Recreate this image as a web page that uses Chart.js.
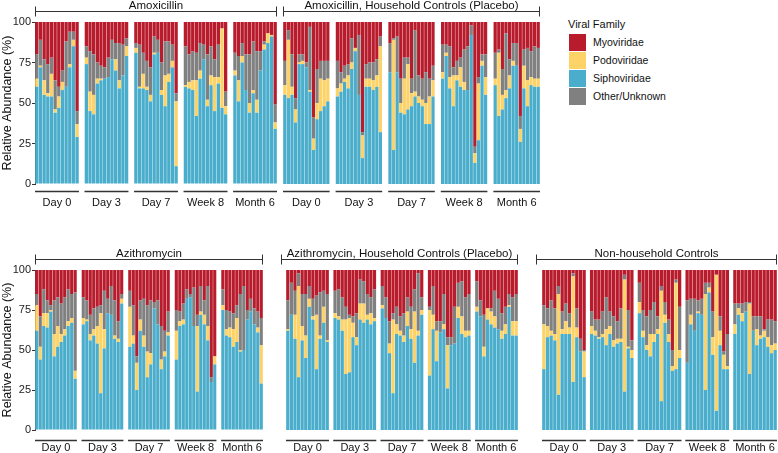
<!DOCTYPE html>
<html>
<head>
<meta charset="utf-8">
<script src="https://cdn.jsdelivr.net/npm/chart.js@4.4.1/dist/chart.umd.min.js"></script>
<style>
  html, body { margin: 0; padding: 0; background: #ffffff; }
  #wrap { position: relative; width: 778px; height: 453px; overflow: hidden; background: #fff;
          font-family: "Liberation Sans", Arial, Helvetica, sans-serif; color: #111; }
  #wrap canvas { position: absolute; }
  .lg-title { position: absolute; font-size: 11px; line-height: 14px; white-space: nowrap; }
  .lg-sw { position: absolute; width: 17px; height: 17px; }
  .lg-tx { position: absolute; font-size: 10.5px; line-height: 17px; white-space: nowrap; }
</style>
</head>
<body>
<div id="wrap"></div>
<script>
// ---------------- DATA ----------------
const timepoints = ["Day 0", "Day 3", "Day 7", "Week 8", "Month 6"];
const groupNames = ["Amoxicillin", "Amoxicillin, Household Controls (Placebo)", "Azithromycin",
                    "Azithromycin, Household Controls (Placebo)", "Non-household Controls"];
const familyNames = ["Myoviridae", "Podoviridae", "Siphoviridae", "Other/Unknown"];
const barsPerPanel = [12, 13, 12, 12, 12];
const yTicks = [0, 25, 50, 75, 100];

// Values in %, panels concatenated in timepoint order (Day 0, Day 3, Day 7, Week 8, Month 6)
const amoxSipho = [60,72,55,54,54,44,47,58,60,72,85,29, 74,45,43,62,64,65,66,77,70,59,67,79, 81,59,59,58,51,80,81,55,48,63,72,11, 60,59,58,42,65,77,48,61,45,62,47,43, 67,51,75,58,44,56,44,70,83,87,91,34];
const amoxPodo  = [5,1,9,2,14,2,7,5,0,2,4,8, 4,12,12,3,1,0,0,0,7,5,0,6, 3,1,9,2,4,1,0,3,19,5,4,40, 1,4,6,22,5,0,4,6,21,4,49,5, 3,13,4,0,6,2,8,0,3,6,1,4];
const amoxOther = [15,16,13,18,10,18,6,7,28,20,5,8, 7,25,25,10,8,7,12,12,10,23,19,5, 3,26,13,16,17,10,8,17,21,20,10,5, 24,17,18,17,17,9,28,18,11,20,0,9, 11,15,8,22,30,30,30,12,2,0,0,11];
const amoxMyo   = [20,11,23,26,22,36,40,30,12,6,6,55, 15,18,20,25,27,28,22,11,13,13,14,10, 13,14,19,24,28,9,11,25,12,12,14,44, 15,20,18,19,13,14,20,15,23,14,4,43, 19,21,13,20,20,12,18,18,12,7,8,51];

const amoxHHSipho = [55,53,55,38,74,74,72,57,21,40,45,48,51, 54,57,63,59,71,82,55,16,60,60,58,60,32, 69,21,69,44,43,46,48,54,50,48,37,37,54, 65,79,59,48,64,60,58,58,92,13,27,73,55, 61,42,46,53,59,73,73,26,59,48,61,60,60];
const amoxHHPodo  = [6,36,5,8,1,2,0,1,7,10,20,16,14, 5,5,2,8,4,2,0,14,5,5,6,7,53, 0,68,0,6,22,28,8,3,4,4,13,17,10, 4,2,7,19,3,12,5,0,0,6,35,3,11, 4,39,9,5,8,3,0,8,14,16,5,5,5];
const amoxHHOther = [15,6,20,7,5,4,3,39,13,21,11,12,11, 17,7,8,7,15,0,37,2,9,10,11,10,6, 18,1,22,15,13,4,9,38,13,13,19,11,9, 17,5,19,5,9,6,20,27,6,4,4,4,14, 16,2,16,35,10,11,14,8,10,20,16,20,19];
const amoxHHMyo   = [24,5,20,47,20,20,25,3,59,29,24,24,24, 24,31,27,26,10,16,8,68,26,25,25,23,9, 13,10,9,35,22,22,35,5,33,35,31,35,27, 14,14,15,28,24,22,17,15,2,77,34,20,20, 19,17,29,7,23,13,13,58,17,16,18,15,16];

const azSipho = [62,44,65,64,74,46,52,55,59,65,67,32, 66,68,56,59,54,23,51,73,72,57,55,79, 52,54,25,62,52,33,41,76,66,38,46,59, 44,65,66,82,83,65,24,72,66,56,30,41, 75,59,58,52,55,49,50,69,74,66,61,29];
const azPodo  = [16,8,8,9,1,14,13,5,4,3,3,5, 4,1,4,4,11,50,12,0,0,2,2,3, 25,5,17,7,7,16,7,0,0,6,3,2, 18,3,3,0,0,0,41,2,6,9,0,5, 3,4,6,11,15,1,0,0,0,0,3,24];
const azOther = [7,19,15,8,3,21,18,19,20,20,15,49, 13,12,12,13,12,5,24,9,18,22,11,3, 10,19,4,12,23,29,33,4,15,21,13,13, 13,6,10,6,2,24,7,16,9,25,3,0, 10,12,10,10,8,35,40,6,8,10,10,17];
const azMyo   = [15,29,12,19,22,19,17,21,17,12,15,14, 17,19,28,24,23,22,13,18,10,19,32,15, 13,22,54,19,18,22,19,20,19,35,38,26, 25,26,21,12,15,11,28,10,19,10,67,54, 12,25,26,27,22,15,10,25,18,24,26,30];

const azHHSipho = [62,72,57,33,56,45,77,69,38,57,67,55, 70,69,62,35,36,58,53,69,67,69,66,68, 76,70,48,23,60,59,55,65,57,42,59,72, 34,63,43,61,63,26,53,54,70,60,58,59, 74,71,46,69,66,64,63,57,60,77,59,59];
const azHHPodo  = [1,0,15,57,9,14,5,2,34,2,10,1, 3,2,7,34,34,9,5,10,12,3,7,2, 2,0,6,46,6,3,4,9,6,32,3,3, 41,9,19,0,3,27,0,0,7,11,4,3, 3,0,6,7,8,7,0,5,6,1,9,9];
const azHHOther = [18,20,15,8,20,26,8,11,12,27,10,29, 14,17,14,8,2,4,15,15,14,13,10,18, 12,13,14,4,11,9,14,9,14,14,36,8, 2,18,6,7,19,5,5,23,15,22,21,23, 16,10,20,0,2,16,19,11,11,7,15,17];
const azHHMyo   = [19,8,13,2,15,15,10,18,16,14,13,15, 13,12,17,23,28,29,27,6,7,15,17,12, 10,17,32,27,23,29,27,17,23,12,2,17, 23,10,32,32,15,42,42,23,8,7,17,15, 7,19,28,24,24,13,18,27,23,15,17,15];

const nonHHSipho = [38,58,59,56,22,60,60,60,30,58,49,33, 60,59,57,58,53,60,52,54,55,24,51,45, 73,58,50,46,55,60,18,67,55,37,38,45, 42,66,62,73,72,25,86,47,12,53,38,38, 60,72,68,74,35,62,53,57,58,52,48,50];
const nonHHPodo  = [28,7,3,4,63,3,8,4,66,6,0,16, 5,3,1,2,10,5,4,3,2,70,1,5, 7,4,3,14,5,3,69,5,5,3,54,5, 0,6,0,1,0,60,3,11,85,9,9,2, 6,4,5,0,44,0,10,2,4,6,5,4];
const nonHHOther = [12,11,19,16,5,11,11,9,2,12,8,1, 9,7,11,14,20,9,15,11,19,3,23,6, 12,13,18,15,20,8,3,8,9,10,2,27, 39,10,20,7,10,7,3,16,0,9,2,20, 13,3,6,6,1,9,8,12,1,11,16,14];
const nonHHMyo   = [22,24,19,24,10,26,21,27,2,24,43,50, 26,31,31,26,17,26,29,32,24,3,25,44, 8,25,29,25,20,29,10,20,31,50,6,23, 19,18,18,19,18,8,8,26,3,29,51,40, 21,21,21,20,20,29,29,29,37,31,31,32];

// ---------------- STYLE / LAYOUT ----------------
const COLORS = { Myoviridae: "#B81C2C", Podoviridae: "#FDD367", Siphoviridae: "#49ADCB", "Other/Unknown": "#808080" };
const FONT = '"Liberation Sans", Arial, Helvetica, sans-serif';

const groupSeries = [
  [amoxSipho, amoxPodo, amoxOther, amoxMyo],
  [amoxHHSipho, amoxHHPodo, amoxHHOther, amoxHHMyo],
  [azSipho, azPodo, azOther, azMyo],
  [azHHSipho, azHHPodo, azHHOther, azHHMyo],
  [nonHHSipho, nonHHPodo, nonHHOther, nonHHMyo]
];
// stacking order bottom -> top
const stackFamilies = ["Siphoviridae", "Podoviridae", "Other/Unknown", "Myoviridae"];

const LAYOUT = [
  { left: 0,   top: 0,   width: 277, height: 215, padTop: 22, padBottom: 31, gap: 1.53, axis: true,  ul: 7.5,  lb: 21.5, bx: 0 },
  { left: 283, top: 0,   width: 257, height: 215, padTop: 22, padBottom: 31, gap: 1.67, axis: false, ul: 7.5,  lb: 21.5, bx: 0 },
  { left: 0,   top: 248, width: 263, height: 205, padTop: 22, padBottom: 23, gap: 1.32, axis: true,  ul: 10.5, lb: 20.5, bx: 0 },
  { left: 281, top: 248, width: 237, height: 205, padTop: 22, padBottom: 23, gap: 1.17, axis: false, ul: 10.5, lb: 20.5, bx: 5 },
  { left: 536, top: 248, width: 241, height: 205, padTop: 22, padBottom: 23, gap: 1.04, axis: false, ul: 10.5, lb: 20.5, bx: 6 }
];

const decorPlugin = {
  id: "decor",
  afterDraw(chart, args, o) {
    const { ctx, chartArea: a } = chart;
    const x = chart.scales.x;
    const bl = a.left - o.bx;
    ctx.save();
    ctx.strokeStyle = "#333";
    ctx.fillStyle = "#111";
    // group bracket + title
    const by = Math.round(a.top - 11) + 0.5;
    ctx.lineWidth = 1;
    ctx.beginPath();
    ctx.moveTo(bl, by); ctx.lineTo(a.right, by);
    ctx.moveTo(bl + 0.5, by - 5); ctx.lineTo(bl + 0.5, by + 5);
    ctx.moveTo(a.right - 0.5, by - 5); ctx.lineTo(a.right - 0.5, by + 5);
    ctx.stroke();
    ctx.font = "11.5px " + FONT;
    ctx.textAlign = "center";
    ctx.textBaseline = "alphabetic";
    ctx.fillText(o.title, (bl + a.right) / 2, by - 2.5);
    // timepoint underline + label
    ctx.font = "11px " + FONT;
    o.labels.forEach((tp, t) => {
      const x0 = x.getPixelForValue(t * (o.n + o.gap));
      const x1 = x.getPixelForValue(t * (o.n + o.gap) + o.n);
      ctx.lineWidth = 1.5;
      ctx.beginPath();
      ctx.moveTo(x0, a.bottom + o.ul); ctx.lineTo(x1, a.bottom + o.ul);
      ctx.stroke();
      ctx.fillText(tp, (x0 + x1) / 2, a.bottom + o.lb);
    });
    ctx.restore();
  }
};

const wrap = document.getElementById("wrap");

LAYOUT.forEach((L, g) => {
  const n = barsPerPanel[g];
  const series = groupSeries[g];
  const total = 5 * n + 4 * L.gap;
  const cv = document.createElement("canvas");
  cv.width = L.width; cv.height = L.height;
  cv.style.left = L.left + "px"; cv.style.top = L.top + "px";
  cv.style.width = L.width + "px"; cv.style.height = L.height + "px";
  wrap.appendChild(cv);

  const datasets = stackFamilies.map((fam, fi) => ({
    label: fam,
    data: series[fi].map((v, i) => {
      const t = Math.floor(i / n), k = i % n;
      return { x: t * (n + L.gap) + k + 0.5, y: v };
    }),
    backgroundColor: COLORS[fam],
    borderWidth: 0,
    barPercentage: 0.9,
    categoryPercentage: 1
  }));

  new Chart(cv, {
    type: "bar",
    data: { datasets },
    plugins: [decorPlugin],
    options: {
      responsive: false,
      animation: false,
      events: [],
      devicePixelRatio: 1,
      layout: { padding: { top: L.padTop, bottom: L.padBottom, left: L.bx, right: 0 } },
      plugins: {
        legend: { display: false },
        tooltip: { enabled: false },
        decor: { title: groupNames[g], labels: timepoints, n: n, gap: L.gap, ul: L.ul, lb: L.lb, bx: L.bx }
      },
      scales: {
        x: {
          type: "linear", stacked: true, display: false,
          offset: false, bounds: "data", grace: 0,
          min: 0, max: total,
          afterDataLimits: (s) => { s.min = 0; s.max = total; },
          afterBuildTicks: (s) => { s.ticks = [{ value: 0 }, { value: total }]; },
          grid: { offset: false }
        },
        y: {
          stacked: true, min: 0, max: 100,
          display: L.axis,
          afterBuildTicks: (s) => { s.ticks = yTicks.map(v => ({ value: v })); },
          afterFit: (s) => { s.width = L.axis ? 35 : 0; },
          ticks: { font: { family: FONT, size: 11 }, color: "#222", padding: 1 },
          grid: { drawOnChartArea: false, drawTicks: true, tickLength: 3, color: "#333" },
          border: { display: true, color: "#333", width: 1 },
          title: { display: true, text: "Relative Abundance (%)", color: "#111",
                   font: { family: FONT, size: 12.5 }, padding: { top: 0, bottom: 0 } }
        }
      }
    }
  });
});

// ---------------- LEGEND ----------------
(function buildLegend() {
  const t = document.createElement("div");
  t.className = "lg-title"; t.textContent = "Viral Family";
  t.style.left = "568px"; t.style.top = "17px";
  wrap.appendChild(t);
  familyNames.forEach((fam, i) => {
    const sw = document.createElement("div");
    sw.className = "lg-sw"; sw.style.background = COLORS[fam];
    sw.style.left = "569px"; sw.style.top = (34 + i * 18) + "px";
    wrap.appendChild(sw);
    const tx = document.createElement("div");
    tx.className = "lg-tx"; tx.textContent = fam;
    tx.style.left = "593px"; tx.style.top = (34 + i * 18) + "px";
    wrap.appendChild(tx);
  });
})();
</script>
</body>
</html>
